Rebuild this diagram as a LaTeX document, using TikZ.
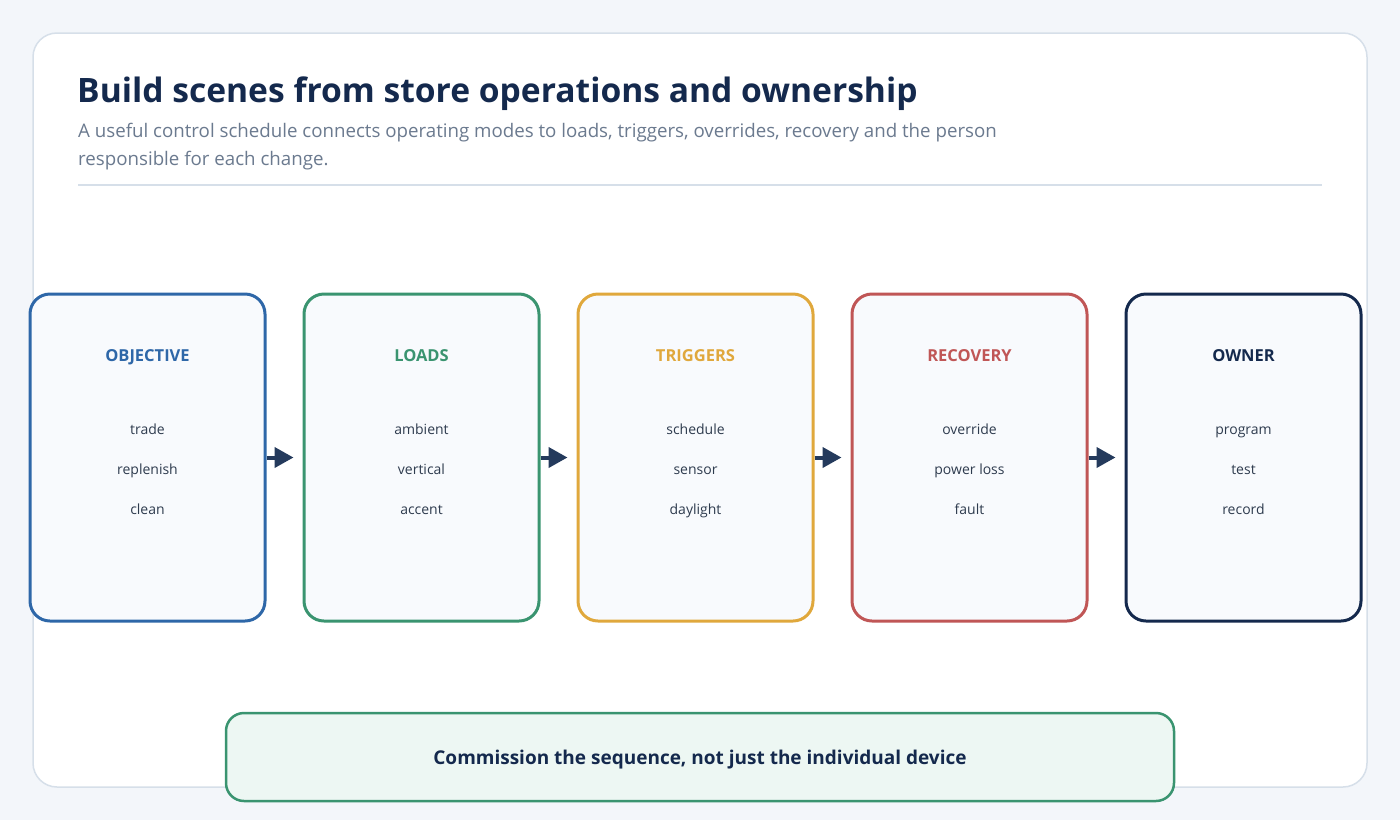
\documentclass[tikz,border=0pt]{standalone}
\usepackage{fontspec}
\setmainfont{Open Sans}
\usetikzlibrary{positioning, arrows.meta}

\definecolor{pagebg}{HTML}{F3F6FA}
\definecolor{cardline}{HTML}{D6DFE9}
\definecolor{navy}{HTML}{14294D}
\definecolor{subgray}{HTML}{6B7A8F}
\definecolor{itemgray}{HTML}{2E3B4E}
\definecolor{boxfill}{HTML}{F8FAFD}
\definecolor{cblue}{HTML}{2E67A8}
\definecolor{cgreen}{HTML}{3A9470}
\definecolor{cyellow}{HTML}{E0A83C}
\definecolor{cred}{HTML}{C05656}
\definecolor{arrowc}{HTML}{243A5C}
\definecolor{notefill}{HTML}{EDF7F3}

\tikzset{
  stage/.style={draw=#1, line width=3pt, fill=boxfill, rounded corners=20pt,
    minimum width=235pt, minimum height=327pt, inner sep=0pt},
  head/.style={anchor=base, inner sep=0pt, font=\fontsize{16.5}{20}\selectfont\bfseries, text=#1},
  item/.style={anchor=base, inner sep=0pt, font=\fontsize{14}{17}\selectfont, text=itemgray},
  flow/.style={draw=arrowc, line width=4pt, shorten >=9pt,
    -{Triangle[length=19pt, width=20pt]}}
}

\begin{document}
\begin{tikzpicture}[x=1pt, y=-1pt]
        \useasboundingbox (0,0) rectangle (1400,820);
        \fill[pagebg] (0,0) rectangle (1400,820);
        \draw[cardline, fill=white, line width=1.5pt, rounded corners=24pt] (33,33) rectangle (1367,787);

        % Title and subtitle
        \node[anchor=base west, text=navy, font=\fontsize{33.6}{40}\selectfont\bfseries, inner sep=0pt] (title) at (77,102) {Build scenes from store operations and ownership};
        \node[anchor=base west, text=subgray, font=\fontsize{18.7}{28}\selectfont, align=left, inner sep=0pt] (sub) at (78,165) {A useful control schedule connects operating modes to loads, triggers, overrides, recovery and the person\\responsible for each change.};
        \draw[cardline, line width=1.5pt] (78,185) -- (1322,185);

        % Draw nodes
        \node[stage=cblue] (objective) at (147.5,457.5) {};
        \node[stage=cgreen] (loads) at (421.5,457.5) {};
        \node[stage=cyellow] (triggers) at (695.5,457.5) {};
        \node[stage=cred] (recovery) at (969.5,457.5) {};
        \node[stage=navy] (owner) at (1243.5,457.5) {};

        % Labels
        \node[head=cblue] at (147.5,361) {OBJECTIVE};
        \node[head=cgreen] at (421.5,361) {LOADS};
        \node[head=cyellow] at (695.5,361) {TRIGGERS};
        \node[head=cred] at (969.5,361) {RECOVERY};
        \node[head=navy] at (1243.5,361) {OWNER};

        \node[item] at (147.5,434) {trade};
        \node[item] at (147.5,474) {replenish};
        \node[item] at (147.5,514) {clean};
        \node[item] at (421.5,434) {ambient};
        \node[item] at (421.5,474) {vertical};
        \node[item] at (421.5,514) {accent};
        \node[item] at (695.5,434) {schedule};
        \node[item] at (695.5,474) {sensor};
        \node[item] at (695.5,514) {daylight};
        \node[item] at (969.5,434) {override};
        \node[item] at (969.5,474) {power loss};
        \node[item] at (969.5,514) {fault};
        \node[item] at (1243.5,434) {program};
        \node[item] at (1243.5,474) {test};
        \node[item] at (1243.5,514) {record};

        % Draw connections
        \draw[flow] (objective) -- (loads);
        \draw[flow] (loads) -- (triggers);
        \draw[flow] (triggers) -- (recovery);
        \draw[flow] (recovery) -- (owner);

        % Closing note
        \node[draw=cgreen, line width=2.5pt, fill=notefill, rounded corners=18pt,
          minimum width=948pt, minimum height=88pt, text=navy, text depth=0pt,
          font=\fontsize{19}{22}\selectfont\bfseries] (note) at (700,757) {Commission the sequence, not just the individual device};
    \end{tikzpicture}
\end{document}
